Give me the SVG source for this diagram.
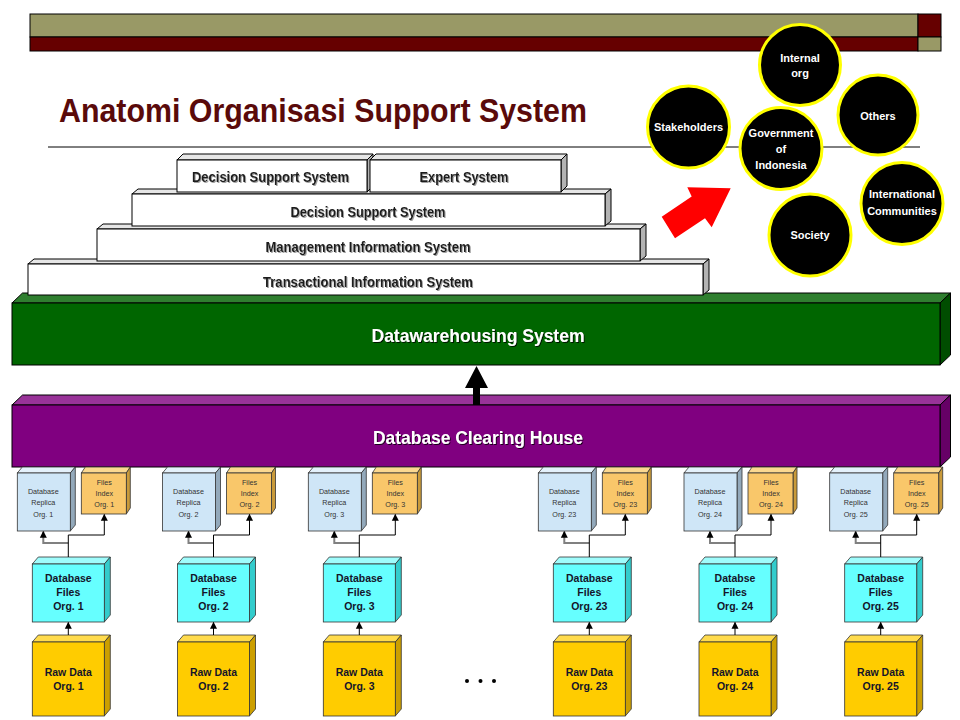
<svg xmlns="http://www.w3.org/2000/svg" width="960" height="720" viewBox="0 0 960 720">
<defs>
<style>
.ln{stroke:#000;stroke-width:1}
.wf{fill:#fff;stroke:#000;stroke-width:1}
.wt{fill:#e6e6e6;stroke:#000;stroke-width:1}
.ws{fill:#b3b3b3;stroke:#000;stroke-width:1}
.pyt{font-family:"Liberation Sans",Arial,sans-serif;font-weight:bold;font-size:14px;fill:#1a1a1a;text-anchor:middle;filter:url(#shg)}
.big{font-family:"Liberation Sans",Arial,sans-serif;font-weight:bold;font-size:19px;fill:#fff;text-anchor:middle;filter:url(#shk)}
.ct{font-family:"Liberation Sans",Arial,sans-serif;font-weight:bold;font-size:11px;fill:#fff;text-anchor:middle}
.cir{fill:#000;stroke:#ffff00;stroke-width:3}
.rf{fill:#cfe6f7;stroke:#333;stroke-width:0.8}
.rt{fill:#e4f1fb;stroke:#333;stroke-width:0.8}
.rs{fill:#93a9bb;stroke:#333;stroke-width:0.8}
.if{fill:#f9c76a;stroke:#333;stroke-width:0.8}
.it{fill:#fbd890;stroke:#333;stroke-width:0.8}
.is{fill:#c99a3a;stroke:#333;stroke-width:0.8}
.df{fill:#66ffff;stroke:#333;stroke-width:0.8}
.dt{fill:#9ffcfc;stroke:#333;stroke-width:0.8}
.ds{fill:#33cccc;stroke:#333;stroke-width:0.8}
.gf{fill:#ffcc00;stroke:#333;stroke-width:0.8}
.gt{fill:#ffdb4d;stroke:#333;stroke-width:0.8}
.gs{fill:#cc9f00;stroke:#333;stroke-width:0.8}
.st{font-family:"Liberation Sans",Arial,sans-serif;font-size:7.2px;fill:#333;text-anchor:middle}
.mt{font-family:"Liberation Sans",Arial,sans-serif;font-weight:bold;font-size:10.5px;fill:#14142a;text-anchor:middle}
.cb{fill:none;stroke:#000;stroke-width:1;marker-end:url(#ah)}
.cg{fill:none;stroke:#808080;stroke-width:2;marker-end:url(#ah)}
</style>
<marker id="ah" viewBox="0 0 10 10" refX="9" refY="5" markerWidth="7" markerHeight="8" markerUnits="userSpaceOnUse" orient="auto">
<path d="M0,0 L10,5 L0,10 z" fill="#000"/>
</marker>
<filter id="shg" x="-5%" y="-30%" width="110%" height="160%"><feDropShadow dx="1" dy="1" stdDeviation="0.5" flood-color="#888" flood-opacity="0.8"/></filter>
<filter id="shk" x="-5%" y="-30%" width="110%" height="160%"><feDropShadow dx="1" dy="1" stdDeviation="0.5" flood-color="#000" flood-opacity="0.8"/></filter>
</defs>
<rect width="960" height="720" fill="#fff"/>

<!-- header bar -->
<g id="header">
<rect x="30" y="14" width="888" height="23" fill="#999966" stroke="#000"/>
<rect x="30" y="37" width="888" height="14" fill="#660000" stroke="#000"/>
<rect x="918" y="14" width="23" height="23" fill="#660000" stroke="#000"/>
<rect x="918" y="37" width="23" height="14" fill="#999966" stroke="#000"/>
</g>

<text x="59" y="122" font-family="'Liberation Sans',Arial,sans-serif" font-weight="bold" font-size="33" fill="#5a0a0a" textLength="528" lengthAdjust="spacingAndGlyphs">Anatomi Organisasi Support System</text>
<line x1="48" y1="147" x2="920" y2="147" class="ln"/>

<!-- Datawarehousing -->
<g id="datawarehousing">
<polygon points="12,303 22.5,293 950.5,293 940,303" fill="#2f7f2f" stroke="#000"/>
<polygon points="940,303 950.5,293 950.5,355 940,365" fill="#004d00" stroke="#000"/>
<rect x="12" y="303" width="928" height="62" fill="#006600" stroke="#000"/>
<text class="big" x="478" y="342" textLength="213" lengthAdjust="spacingAndGlyphs">Datawarehousing System</text>
</g>

<!-- Pyramid -->
<g id="tis">
<polygon class="wt" points="28,264 34,259 709,259 703,264"/>
<polygon class="ws" points="703,264 709,259 709,290 703,295"/>
<rect class="wf" x="28" y="264" width="675" height="31"/>
<text class="pyt" x="368" y="287" textLength="210" lengthAdjust="spacingAndGlyphs">Transactional Information System</text>
</g>
<g id="mis">
<polygon class="wt" points="97,229 103,224 646,224 640,229"/>
<polygon class="ws" points="640,229 646,224 646,256 640,261"/>
<rect class="wf" x="97" y="229" width="543" height="32"/>
<text class="pyt" x="368" y="252" textLength="205" lengthAdjust="spacingAndGlyphs">Management Information System</text>
</g>
<g id="dss">
<polygon class="wt" points="132,194 138,189 611,189 605,194"/>
<polygon class="ws" points="605,194 611,189 611,221 605,226"/>
<rect class="wf" x="132" y="194" width="473" height="32"/>
<text class="pyt" x="368" y="217" textLength="155" lengthAdjust="spacingAndGlyphs">Decision Support System</text>
</g>
<g id="dss-top">
<polygon class="wt" points="177,160 183,154 373,154 367,160"/>
<polygon class="ws" points="367,160 373,154 373,186 367,192"/>
<rect class="wf" x="177" y="160" width="190" height="32"/>
<text class="pyt" x="270.5" y="182" textLength="157" lengthAdjust="spacingAndGlyphs">Decision Support System</text>
</g>
<g id="expert">
<polygon class="wt" points="370,160 376,154 567,154 561,160"/>
<polygon class="ws" points="561,160 567,154 567,186 561,192"/>
<rect class="wf" x="370" y="160" width="191" height="32"/>
<text class="pyt" x="464" y="182" textLength="89" lengthAdjust="spacingAndGlyphs">Expert System</text>
</g>

<!-- Clearing house -->
<g id="clearing-house">
<polygon points="12,405 22.5,395 950.5,395 940,405" fill="#993399" stroke="#000"/>
<polygon points="940,405 950.5,395 950.5,457 940,467" fill="#660066" stroke="#000"/>
<rect x="12" y="405" width="928" height="62" fill="#800080" stroke="#000"/>
<text class="big" x="478" y="444" textLength="210" lengthAdjust="spacingAndGlyphs">Database Clearing House</text>
</g>

<!-- stakeholder circles -->
<g id="internal-org"><circle class="cir" cx="800" cy="65" r="40.5"/><text class="ct" x="800" y="61.5">Internal</text><text class="ct" x="800" y="77">org</text></g>
<g id="others"><circle class="cir" cx="878" cy="115" r="40"/><text class="ct" x="878" y="119.5">Others</text></g>
<g id="stakeholders"><circle class="cir" cx="688.5" cy="127" r="41"/><text class="ct" x="688.5" y="131">Stakeholders</text></g>
<g id="government"><circle class="cir" cx="781" cy="148.5" r="41"/><text class="ct" x="781" y="136.5">Government</text><text class="ct" x="781" y="153">of</text><text class="ct" x="781" y="169">Indonesia</text></g>
<g id="international"><circle class="cir" cx="902" cy="203.5" r="41"/><text class="ct" x="902" y="198">International</text><text class="ct" x="902" y="215">Communities</text></g>
<g id="society"><circle class="cir" cx="810" cy="235" r="41"/><text class="ct" x="810" y="239">Society</text></g>

<!-- org columns -->
<g id="col-1" transform="translate(68.3,0)">
<g id="replica-1"><polygon class="rt" points="-51,473 -46,467 7,467 2,473"/><polygon class="rs" points="2,473 7,467 7,525 2,531"/><rect class="rf" x="-51" y="473" width="53" height="58"/><text class="st" x="-25" y="494.3">Database</text><text class="st" x="-25" y="505.3">Replica</text><text class="st" x="-25" y="516.7">Org. 1</text></g>
<g id="index-1"><polygon class="it" points="13,473 17,467 62,467 58,473"/><polygon class="is" points="58,473 62,467 62,508 58,514"/><rect class="if" x="13" y="473" width="45" height="41"/><text class="st" x="36" y="485">Files</text><text class="st" x="36" y="496">Index</text><text class="st" x="36" y="507">Org. 1</text></g>
<g id="dbfiles-1"><polygon class="dt" points="-36,564 -30,557 42,557 36,564"/><polygon class="ds" points="36,564 42,557 42,615 36,622"/><rect class="df" x="-36" y="564" width="72" height="58"/><text class="mt" x="0" y="582">Database</text><text class="mt" x="0" y="596">Files</text><text class="mt" x="0" y="610">Org. 1</text></g>
<g id="raw-1"><polygon class="gt" points="-36,642 -30,635 42,635 36,642"/><polygon class="gs" points="36,642 42,635 42,709 36,716"/><rect class="gf" x="-36" y="642" width="72" height="74"/><text class="mt" x="0" y="676">Raw Data</text><text class="mt" x="0" y="690">Org. 1</text></g>
</g>
<g id="col-2" transform="translate(213.5,0)">
<g id="replica-2"><polygon class="rt" points="-51,473 -46,467 7,467 2,473"/><polygon class="rs" points="2,473 7,467 7,525 2,531"/><rect class="rf" x="-51" y="473" width="53" height="58"/><text class="st" x="-25" y="494.3">Database</text><text class="st" x="-25" y="505.3">Replica</text><text class="st" x="-25" y="516.7">Org. 2</text></g>
<g id="index-2"><polygon class="it" points="13,473 17,467 62,467 58,473"/><polygon class="is" points="58,473 62,467 62,508 58,514"/><rect class="if" x="13" y="473" width="45" height="41"/><text class="st" x="36" y="485">Files</text><text class="st" x="36" y="496">Index</text><text class="st" x="36" y="507">Org. 2</text></g>
<g id="dbfiles-2"><polygon class="dt" points="-36,564 -30,557 42,557 36,564"/><polygon class="ds" points="36,564 42,557 42,615 36,622"/><rect class="df" x="-36" y="564" width="72" height="58"/><text class="mt" x="0" y="582">Database</text><text class="mt" x="0" y="596">Files</text><text class="mt" x="0" y="610">Org. 2</text></g>
<g id="raw-2"><polygon class="gt" points="-36,642 -30,635 42,635 36,642"/><polygon class="gs" points="36,642 42,635 42,709 36,716"/><rect class="gf" x="-36" y="642" width="72" height="74"/><text class="mt" x="0" y="676">Raw Data</text><text class="mt" x="0" y="690">Org. 2</text></g>
</g>
<g id="col-3" transform="translate(359.3,0)">
<g id="replica-3"><polygon class="rt" points="-51,473 -46,467 7,467 2,473"/><polygon class="rs" points="2,473 7,467 7,525 2,531"/><rect class="rf" x="-51" y="473" width="53" height="58"/><text class="st" x="-25" y="494.3">Database</text><text class="st" x="-25" y="505.3">Replica</text><text class="st" x="-25" y="516.7">Org. 3</text></g>
<g id="index-3"><polygon class="it" points="13,473 17,467 62,467 58,473"/><polygon class="is" points="58,473 62,467 62,508 58,514"/><rect class="if" x="13" y="473" width="45" height="41"/><text class="st" x="36" y="485">Files</text><text class="st" x="36" y="496">Index</text><text class="st" x="36" y="507">Org. 3</text></g>
<g id="dbfiles-3"><polygon class="dt" points="-36,564 -30,557 42,557 36,564"/><polygon class="ds" points="36,564 42,557 42,615 36,622"/><rect class="df" x="-36" y="564" width="72" height="58"/><text class="mt" x="0" y="582">Database</text><text class="mt" x="0" y="596">Files</text><text class="mt" x="0" y="610">Org. 3</text></g>
<g id="raw-3"><polygon class="gt" points="-36,642 -30,635 42,635 36,642"/><polygon class="gs" points="36,642 42,635 42,709 36,716"/><rect class="gf" x="-36" y="642" width="72" height="74"/><text class="mt" x="0" y="676">Raw Data</text><text class="mt" x="0" y="690">Org. 3</text></g>
</g>
<g id="col-23" transform="translate(589.3,0)">
<g id="replica-23"><polygon class="rt" points="-51,473 -46,467 7,467 2,473"/><polygon class="rs" points="2,473 7,467 7,525 2,531"/><rect class="rf" x="-51" y="473" width="53" height="58"/><text class="st" x="-25" y="494.3">Database</text><text class="st" x="-25" y="505.3">Replica</text><text class="st" x="-25" y="516.7">Org. 23</text></g>
<g id="index-23"><polygon class="it" points="13,473 17,467 62,467 58,473"/><polygon class="is" points="58,473 62,467 62,508 58,514"/><rect class="if" x="13" y="473" width="45" height="41"/><text class="st" x="36" y="485">Files</text><text class="st" x="36" y="496">Index</text><text class="st" x="36" y="507">Org. 23</text></g>
<g id="dbfiles-23"><polygon class="dt" points="-36,564 -30,557 42,557 36,564"/><polygon class="ds" points="36,564 42,557 42,615 36,622"/><rect class="df" x="-36" y="564" width="72" height="58"/><text class="mt" x="0" y="582">Database</text><text class="mt" x="0" y="596">Files</text><text class="mt" x="0" y="610">Org. 23</text></g>
<g id="raw-23"><polygon class="gt" points="-36,642 -30,635 42,635 36,642"/><polygon class="gs" points="36,642 42,635 42,709 36,716"/><rect class="gf" x="-36" y="642" width="72" height="74"/><text class="mt" x="0" y="676">Raw Data</text><text class="mt" x="0" y="690">Org. 23</text></g>
</g>
<g id="col-24" transform="translate(735,0)">
<g id="replica-24"><polygon class="rt" points="-51,473 -46,467 7,467 2,473"/><polygon class="rs" points="2,473 7,467 7,525 2,531"/><rect class="rf" x="-51" y="473" width="53" height="58"/><text class="st" x="-25" y="494.3">Database</text><text class="st" x="-25" y="505.3">Replica</text><text class="st" x="-25" y="516.7">Org. 24</text></g>
<g id="index-24"><polygon class="it" points="13,473 17,467 62,467 58,473"/><polygon class="is" points="58,473 62,467 62,508 58,514"/><rect class="if" x="13" y="473" width="45" height="41"/><text class="st" x="36" y="485">Files</text><text class="st" x="36" y="496">Index</text><text class="st" x="36" y="507">Org. 24</text></g>
<g id="dbfiles-24"><polygon class="dt" points="-36,564 -30,557 42,557 36,564"/><polygon class="ds" points="36,564 42,557 42,615 36,622"/><rect class="df" x="-36" y="564" width="72" height="58"/><text class="mt" x="0" y="582">Databse</text><text class="mt" x="0" y="596">Files</text><text class="mt" x="0" y="610">Org. 24</text></g>
<g id="raw-24"><polygon class="gt" points="-36,642 -30,635 42,635 36,642"/><polygon class="gs" points="36,642 42,635 42,709 36,716"/><rect class="gf" x="-36" y="642" width="72" height="74"/><text class="mt" x="0" y="676">Raw Data</text><text class="mt" x="0" y="690">Org. 24</text></g>
</g>
<g id="col-25" transform="translate(880.7,0)">
<g id="replica-25"><polygon class="rt" points="-51,473 -46,467 7,467 2,473"/><polygon class="rs" points="2,473 7,467 7,525 2,531"/><rect class="rf" x="-51" y="473" width="53" height="58"/><text class="st" x="-25" y="494.3">Database</text><text class="st" x="-25" y="505.3">Replica</text><text class="st" x="-25" y="516.7">Org. 25</text></g>
<g id="index-25"><polygon class="it" points="13,473 17,467 62,467 58,473"/><polygon class="is" points="58,473 62,467 62,508 58,514"/><rect class="if" x="13" y="473" width="45" height="41"/><text class="st" x="36" y="485">Files</text><text class="st" x="36" y="496">Index</text><text class="st" x="36" y="507">Org. 25</text></g>
<g id="dbfiles-25"><polygon class="dt" points="-36,564 -30,557 42,557 36,564"/><polygon class="ds" points="36,564 42,557 42,615 36,622"/><rect class="df" x="-36" y="564" width="72" height="58"/><text class="mt" x="0" y="582">Database</text><text class="mt" x="0" y="596">Files</text><text class="mt" x="0" y="610">Org. 25</text></g>
<g id="raw-25"><polygon class="gt" points="-36,642 -30,635 42,635 36,642"/><polygon class="gs" points="36,642 42,635 42,709 36,716"/><rect class="gf" x="-36" y="642" width="72" height="74"/><text class="mt" x="0" y="676">Raw Data</text><text class="mt" x="0" y="690">Org. 25</text></g>
</g>

<!-- ellipsis -->
<g id="ellipsis" fill="#000"><circle cx="467" cy="681" r="2"/><circle cx="480.5" cy="681" r="2"/><circle cx="494" cy="681" r="2"/></g>

<!-- connectors -->
<g id="connectors">
<polygon points="473,405 473,388 465,388 476.5,366 488,388 480,388 480,405" fill="#000"/>
<polygon points="661.7,216.7 691.7,196.5 687.3,187.3 730.7,188.3 711.7,227.3 705,218.3 675,238.3" fill="#ff0000"/>
<g transform="translate(68.3,0)"><path class="cg" d="M0,543 H-25 V531.5"/><path class="cb" d="M0,557 V535 H36 V514.5"/><path class="cb" d="M0,635 V622.5"/></g>
<g transform="translate(213.5,0)"><path class="cg" d="M0,543 H-25 V531.5"/><path class="cb" d="M0,557 V535 H36 V514.5"/><path class="cb" d="M0,635 V622.5"/></g>
<g transform="translate(359.3,0)"><path class="cg" d="M0,543 H-25 V531.5"/><path class="cb" d="M0,557 V535 H36 V514.5"/><path class="cb" d="M0,635 V622.5"/></g>
<g transform="translate(589.3,0)"><path class="cg" d="M0,543 H-25 V531.5"/><path class="cb" d="M0,557 V535 H36 V514.5"/><path class="cb" d="M0,635 V622.5"/></g>
<g transform="translate(735,0)"><path class="cg" d="M0,543 H-25 V531.5"/><path class="cb" d="M0,557 V535 H36 V514.5"/><path class="cb" d="M0,635 V622.5"/></g>
<g transform="translate(880.7,0)"><path class="cg" d="M0,543 H-25 V531.5"/><path class="cb" d="M0,557 V535 H36 V514.5"/><path class="cb" d="M0,635 V622.5"/></g>
</g>
</svg>
